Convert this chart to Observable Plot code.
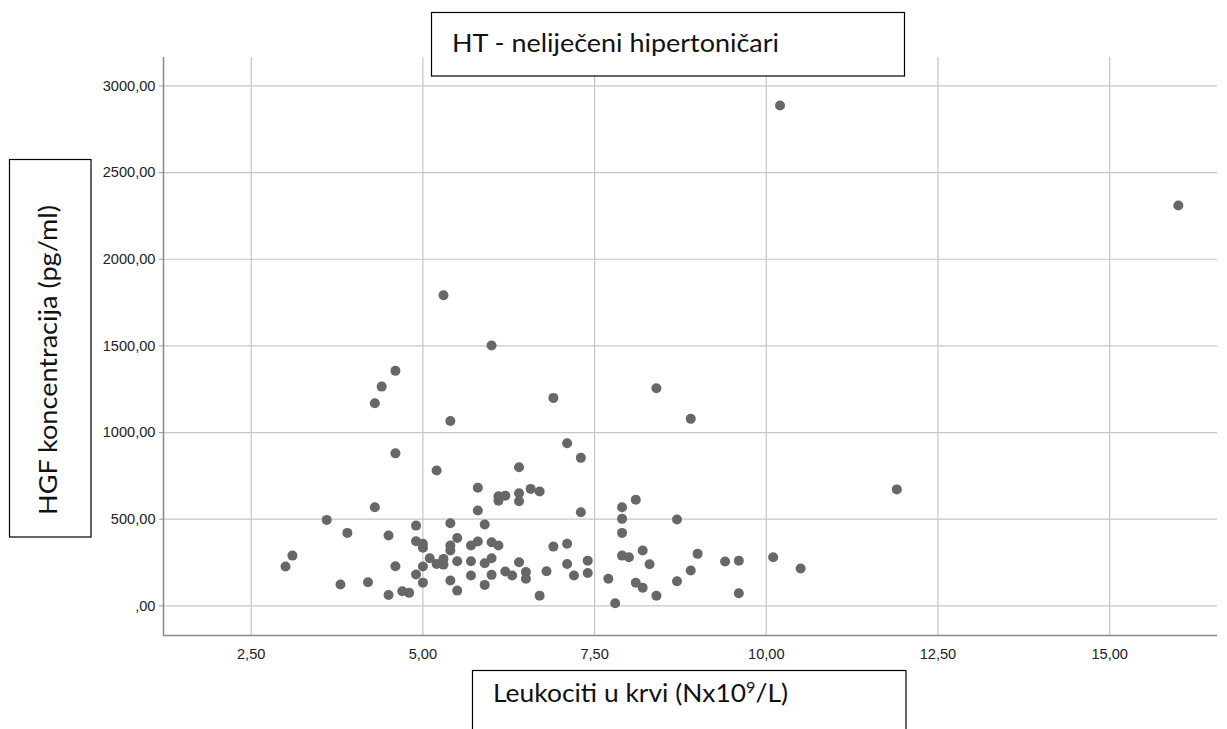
<!DOCTYPE html>
<html>
<head>
<meta charset="utf-8">
<script src="https://cdn.jsdelivr.net/npm/d3@7"></script>
<script src="https://cdn.jsdelivr.net/npm/@observablehq/plot@0.6"></script>
<style>
  html, body { margin: 0; padding: 0; background: #fff; }
  #wrap { position: relative; width: 1227px; height: 729px; overflow: hidden; }
  #wrap > svg { position: absolute; left: 0; top: 0; }
  #overlay { position: absolute; left: 0; top: 0; pointer-events: none; }
</style>
</head>
<body>
<div id="wrap"></div>
<script>
// ---- data ----
const titleText = "HT - neliječeni hipertoničari";
const xLabelText = "Leukociti u krvi (Nx10";
const xLabelSup = "9";
const xLabelEnd = "/L)";
const yLabelText = "HGF koncentracija (pg/ml)";

const xTicks = [2.5, 5, 7.5, 10, 12.5, 15];
const yTicks = [0, 500, 1000, 1500, 2000, 2500, 3000];

const leukociti = [
  5.3, 6.0, 4.6, 4.4, 4.3, 5.4, 6.9, 8.4, 8.9, 4.6, 7.1, 7.3,
  10.2, 16.0, 11.9, 10.5,
  5.2, 6.4, 5.8, 6.1, 6.2, 6.1, 6.4, 6.4, 4.3, 5.8, 3.6, 4.9, 5.4, 5.9, 3.9, 4.5,
  4.9, 5.0, 5.0, 5.5, 5.4, 5.4, 5.7, 5.8, 6.0, 6.1, 6.4, 3.1, 3.0, 4.6, 5.1, 5.2,
  5.3, 5.3, 5.0, 5.5, 5.7, 5.9, 6.0, 4.9, 5.0, 5.4, 5.7, 6.0, 5.9, 5.5, 6.2, 6.3,
  6.5, 6.5, 3.8, 4.2, 4.5, 4.7, 4.8,
  6.57, 6.7, 7.3, 7.9, 8.1, 7.9, 8.7, 7.9, 6.9, 7.1, 7.9, 8.0, 8.2, 8.3, 9.0, 9.4,
  9.6, 10.1, 6.8, 7.1, 7.2, 7.4, 7.4, 6.7, 7.7, 7.8, 8.1, 8.2, 8.4, 8.7, 8.9, 9.6
];
const hgf = [
  1792, 1502, 1356, 1265, 1169, 1067, 1200, 1256, 1079, 880, 938, 854,
  2887, 2310, 672, 216,
  781, 800, 681, 632, 636, 607, 650, 604, 569, 550, 496, 463, 477, 469, 421, 406,
  373, 358, 335, 392, 348, 319, 348, 371, 367, 348, 252, 290, 227, 229, 275, 242,
  271, 238, 227, 257, 257, 246, 275, 181, 134, 146, 175, 179, 121, 88, 198, 175,
  156, 195, 123, 136, 63, 84, 75,
  675, 660, 540, 569, 612, 502, 498, 421, 342, 358, 290, 281, 319, 240, 300, 256,
  261, 281, 200, 242, 175, 261, 190, 59, 156, 15, 133, 104, 58, 142, 204, 73
];

const points = leukociti.map((x, i) => ({x, y: hgf[i]}));

const fmt = d => d === 0 ? ",00" : d.toFixed(2).replace(".", ",");

const W = 1227, H = 729;
const mL = 163, mR = 10, mT = 57, mB = 94;
const xDomain = [1.223, 16.57];
const yDomain = [-171, 3164];

const chart = Plot.plot({
  width: W,
  height: H,
  marginLeft: mL,
  marginRight: mR,
  marginTop: mT,
  marginBottom: mB,
  style: {
    fontFamily: "'Liberation Sans', Arial, sans-serif",
    fontSize: "14.6px",
    color: "#222",
    background: "#fff",
    overflow: "visible"
  },
  x: {domain: xDomain, label: null},
  y: {domain: yDomain, label: null},
  marks: [
    Plot.gridX(xTicks, {stroke: "#c6c6c6", strokeOpacity: 1, strokeWidth: 1.2}),
    Plot.gridY(yTicks, {stroke: "#c6c6c6", strokeOpacity: 1, strokeWidth: 1.2}),
    Plot.axisX(xTicks, {tickSize: 0, tickPadding: 13, tickFormat: fmt, label: null, fill: "#222"}),
    Plot.axisY(yTicks, {tickSize: 4, tickPadding: 4, tickFormat: fmt, label: null, stroke: "#999", fill: "#222"}),
    Plot.ruleX([xDomain[0]], {stroke: "#8a8a8a", strokeWidth: 1.5}),
    Plot.ruleY([yDomain[0]], {stroke: "#8a8a8a", strokeWidth: 1.5}),
    Plot.dot(points, {x: "x", y: "y", r: 5, fill: "#676767", stroke: "none"})
  ]
});

const wrap = document.getElementById("wrap");
wrap.appendChild(chart);

// ---- label boxes (overlay, real text) ----
const ns = "http://www.w3.org/2000/svg";
const ov = document.createElementNS(ns, "svg");
ov.setAttribute("id", "overlay");
ov.setAttribute("width", W);
ov.setAttribute("height", H);
wrap.appendChild(ov);

function box(x, y, w, h) {
  const r = document.createElementNS(ns, "rect");
  r.setAttribute("x", x); r.setAttribute("y", y);
  r.setAttribute("width", w); r.setAttribute("height", h);
  r.setAttribute("fill", "#fff"); r.setAttribute("stroke", "#000"); r.setAttribute("stroke-width", 1.2);
  ov.appendChild(r);
}
function txt(x, y, parts, len, rotate) {
  const t = document.createElementNS(ns, "text");
  t.setAttribute("x", x); t.setAttribute("y", y);
  t.setAttribute("font-family", "Lato, 'Open Sans', sans-serif");
  t.setAttribute("font-size", "24.5");
  t.setAttribute("fill", "#111");
  if (len) { t.setAttribute("textLength", len); t.setAttribute("lengthAdjust", "spacingAndGlyphs"); }
  if (rotate) t.setAttribute("transform", rotate);
  for (const p of parts) {
    const s = document.createElementNS(ns, "tspan");
    s.textContent = p.text;
    if (p.sup) { s.setAttribute("font-size", "15"); s.setAttribute("dy", "-9"); }
    if (p.back) { s.setAttribute("dy", "9"); }
    t.appendChild(s);
  }
  ov.appendChild(t);
}

// title box
box(431.5, 12.5, 473, 63.5);
txt(452, 52, [{text: titleText}], 327);

// y label box
box(9.5, 159.5, 81.5, 377.5);
txt(0, 0, [{text: yLabelText}], 310, "translate(57,515) rotate(-90)");

// x label box
box(472.5, 670.5, 433.5, 90);
txt(493, 702, [{text: xLabelText}, {text: xLabelSup, sup: true}, {text: xLabelEnd, back: true}], 295);
</script>
</body>
</html>
